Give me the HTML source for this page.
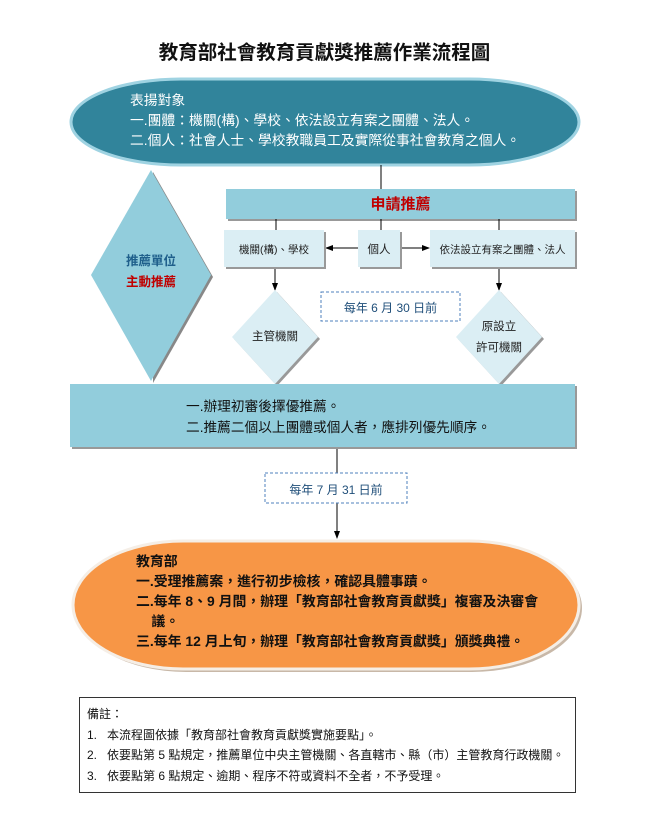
<!DOCTYPE html>
<html><head><meta charset="utf-8"><style>
body{margin:0;width:649px;height:836px;background:#fff;position:relative;overflow:hidden;font-family:"Liberation Sans","Noto Sans CJK TC",sans-serif;}
.t{position:absolute;white-space:nowrap;}
</style></head><body>
<svg width="649" height="836" style="position:absolute;left:0;top:0">
<defs><marker id="a" markerWidth="8" markerHeight="8" refX="7" refY="4" orient="auto"><path d="M0,1 L8,4 L0,7z" fill="#000"/></marker></defs>
<rect x="71" y="79" width="508" height="86" rx="110" ry="43" fill="#31849b" stroke="#9fd3e2" stroke-width="3"/>
<line x1="381" y1="165" x2="381" y2="190" stroke="#000"/>
<rect x="228" y="191" width="349" height="30" fill="#999"/>
<rect x="226" y="189" width="349" height="30" fill="#92cddc"/>
<polygon points="153,172 213,277 153,383" fill="#888"/>
<polygon points="151,170 211,275 151,381 91,275" fill="#92cddc"/>
<g stroke="#000"><line x1="276" y1="219" x2="276" y2="230"/><line x1="381" y1="219" x2="381" y2="230"/><line x1="499" y1="219" x2="499" y2="230"/>
<line x1="358" y1="248" x2="326" y2="248" marker-end="url(#a)"/><line x1="400" y1="248" x2="429" y2="248" marker-end="url(#a)"/>
<line x1="275" y1="267" x2="275" y2="290" marker-end="url(#a)"/><line x1="499" y1="267" x2="499" y2="290" marker-end="url(#a)"/>
<line x1="337" y1="447" x2="337" y2="473"/><line x1="337" y1="503" x2="337" y2="538" marker-end="url(#a)"/></g>
<g fill="#999"><rect x="226" y="232" width="100" height="37"/><rect x="360" y="232" width="42" height="37"/><rect x="432" y="232" width="145" height="37"/></g>
<g fill="#dbeef4"><rect x="224" y="230" width="100" height="37"/><rect x="358" y="230" width="42" height="37"/><rect x="430" y="230" width="145" height="37"/></g>
<polygon points="277,292 320,339 277,386 234,339" fill="#999"/>
<polygon points="275,290 318,337 275,384 232,337" fill="#dbeef4"/>
<polygon points="501,292 544,339 501,386 458,339" fill="#999"/>
<polygon points="499,290 542,337 499,384 456,337" fill="#dbeef4"/>
<rect x="321" y="292" width="139" height="29" fill="#fff" stroke="#4f81bd" stroke-dasharray="3,2"/>
<rect x="72" y="386" width="505" height="63" fill="#999"/>
<rect x="70" y="384" width="505" height="63" fill="#92cddc"/>
<rect x="265" y="473" width="142" height="30" fill="#fff" stroke="#4f81bd" stroke-dasharray="3,2"/>
<rect x="76" y="544" width="506" height="128" rx="110" ry="64" fill="#c8b8a8"/>
<rect x="73" y="541" width="506" height="128" rx="110" ry="64" fill="#f79646" stroke="#f5eee6" stroke-width="3"/>
<rect x="79.5" y="697.5" width="496" height="95" fill="#fff" stroke="#333"/>
</svg>
<div class="t" style="left:0;width:649px;text-align:center;top:36px;font-size:19.5px;font-weight:bold;color:#111">教育部社會教育貢獻獎推薦作業流程圖</div>
<div class="t" style="left:130px;top:91px;font-size:13.8px;color:#fff;line-height:20px">表揚對象<br>一.團體：機關(構)、學校、依法設立有案之團體、法人。<br>二.個人：社會人士、學校教職員工及實際從事社會教育之個人。</div>
<div class="t" style="left:226px;width:349px;text-align:center;top:193px;font-size:15px;font-weight:bold;color:#c00000">申請推薦</div>
<div class="t" style="left:91px;width:120px;text-align:center;top:251px;font-size:12.5px;font-weight:bold;line-height:21px"><span style="color:#1f5f8b">推薦單位</span><br><span style="color:#c00000">主動推薦</span></div>
<div class="t" style="left:224px;width:100px;text-align:center;top:242px;font-size:10.5px;color:#222">機關(構)、學校</div>
<div class="t" style="left:358px;width:42px;text-align:center;top:241px;font-size:11.5px;color:#222">個人</div>
<div class="t" style="left:430px;width:145px;text-align:center;top:242px;font-size:10.5px;color:#222">依法設立有案之團體、法人</div>
<div class="t" style="left:232px;width:86px;text-align:center;top:328px;font-size:11.5px;color:#222">主管機關</div>
<div class="t" style="left:456px;width:86px;text-align:center;top:317px;font-size:11.5px;color:#222;line-height:21px">原設立<br>許可機關</div>
<div class="t" style="left:321px;width:139px;text-align:center;top:299px;font-size:12px;color:#1f4e79">每年 6 月 30 日前</div>
<div class="t" style="left:186px;top:396px;font-size:13.7px;color:#111;line-height:21px">一.辦理初審後擇優推薦。<br>二.推薦二個以上團體或個人者，應排列優先順序。</div>
<div class="t" style="left:265px;width:142px;text-align:center;top:481px;font-size:12px;color:#1f4e79">每年 7 月 31 日前</div>
<div class="t" style="left:136px;top:551px;font-size:13.9px;font-weight:bold;color:#111;line-height:20px">教育部<br>一.受理推薦案，進行初步檢核，確認具體事蹟。<br>二.每年 8、9 月間，辦理「教育部社會教育貢獻獎」複審及決審會<br>&nbsp;&nbsp;&nbsp;&nbsp;議。<br>三.每年 12 月上旬，辦理「教育部社會教育貢獻獎」頒獎典禮。</div>
<div class="t" style="left:87px;top:704px;font-size:12px;color:#111;line-height:20.7px">備註：<br>1.&nbsp;&nbsp;&nbsp;本流程圖依據「教育部社會教育貢獻獎實施要點」。<br>2.&nbsp;&nbsp;&nbsp;依要點第 5 點規定，推薦單位中央主管機關、各直轄市、縣（市）主管教育行政機關。<br>3.&nbsp;&nbsp;&nbsp;依要點第 6 點規定、逾期、程序不符或資料不全者，不予受理。</div>
</body></html>
